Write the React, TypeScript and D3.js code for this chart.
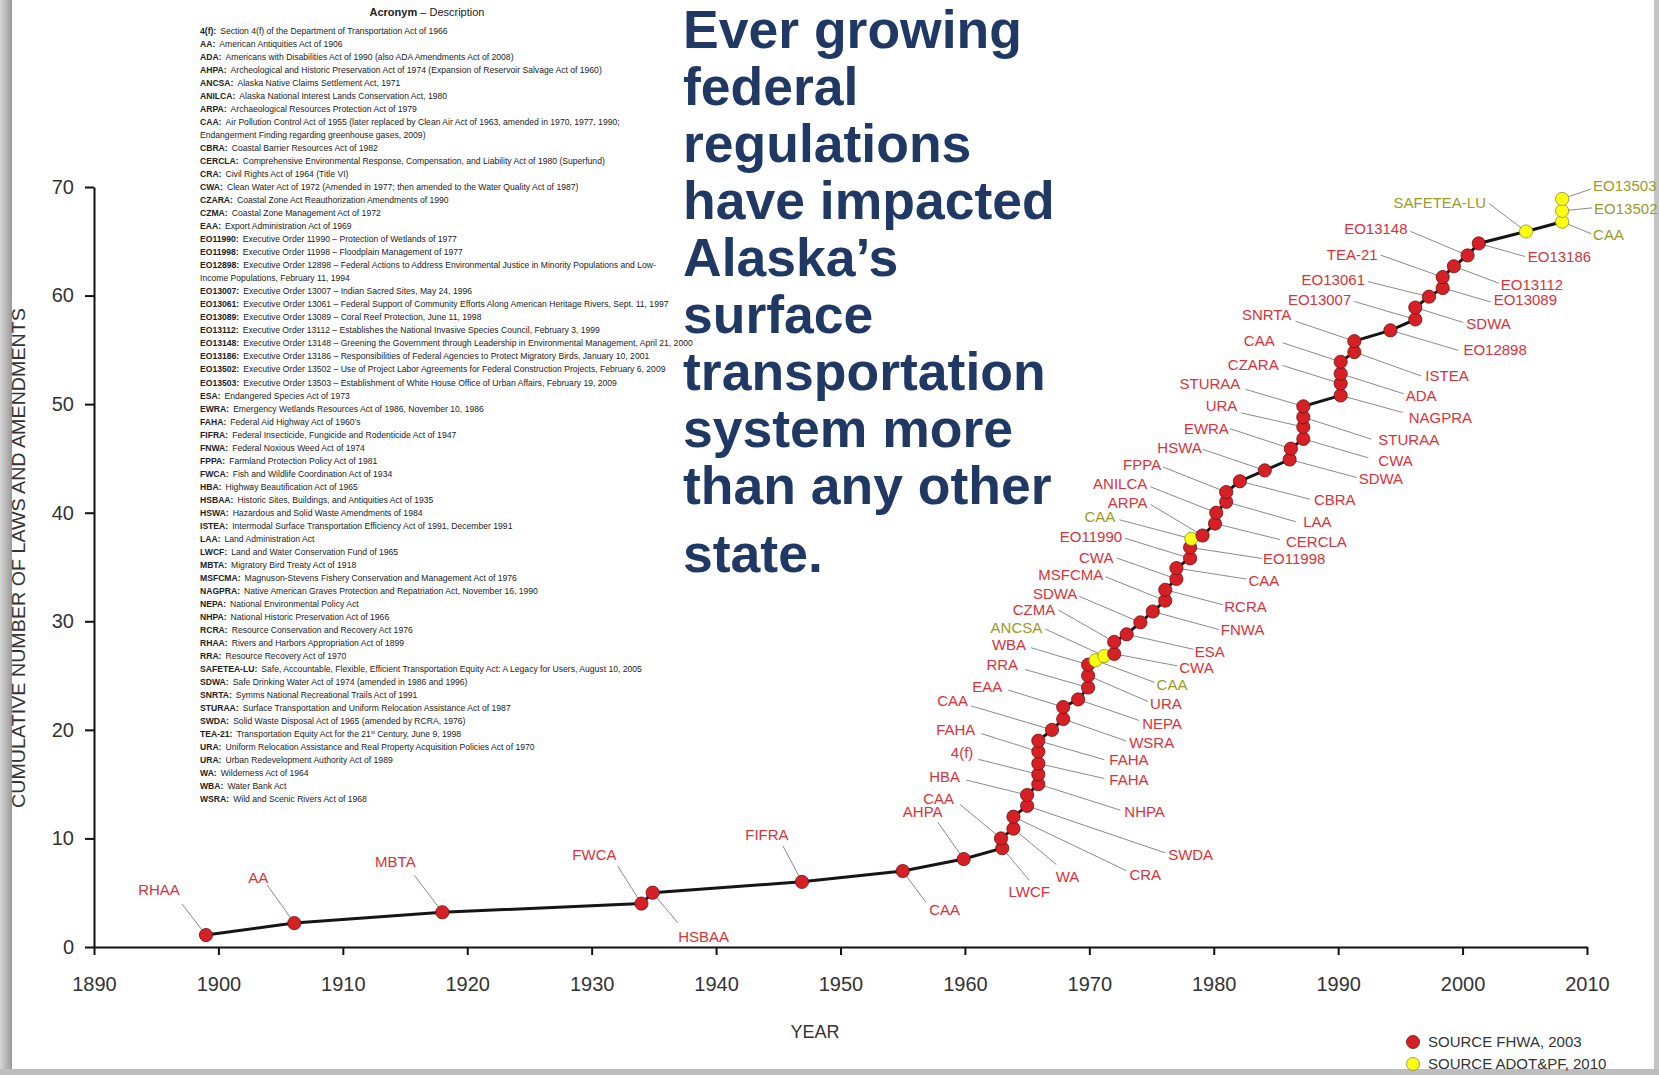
import React, { useEffect, useRef } from 'react';
import * as d3 from 'd3';

const W = 1659;
const H = 1075;

// one entry per law, in cumulative order
const years = [
  1899, 1906.1, 1918, 1934, 1934.9, 1946.9, 1955, 1959.9, 1963, 1962.9,
  1963.9, 1963.9, 1965, 1965, 1965.9, 1965.9, 1965.9, 1965.9, 1965.9, 1967,
  1967.9, 1967.9, 1969.1, 1969.9, 1969.9, 1969.9, 1970.5, 1971.2, 1972, 1972,
  1973, 1974.1, 1975.1, 1976.1, 1976.1, 1977, 1977, 1978.1, 1978.1, 1978.2,
  1979.1, 1980.1, 1980.2, 1981, 1981, 1982.1, 1984.1, 1986.1, 1986.2, 1987.2,
  1987.2, 1987.2, 1987.2, 1990.2, 1990.2, 1990.2, 1990.2, 1991.3, 1991.3, 1994.2,
  1996.2, 1996.2, 1997.3, 1998.4, 1998.4, 1999.3, 2000.4, 2001.3, 2005.1, 2008,
  2008, 2008
];

const counts = [
  1.1, 2.2, 3.2, 4.0, 5.0, 6.0, 7.0, 8.1, 9.1, 10.0,
  10.9, 12.0, 13.0, 14.0, 15.0, 15.9, 16.9, 18.0, 19.0, 20.0,
  21.0, 22.1, 22.8, 23.9, 25.0, 26.0, 26.4, 26.8, 27.0, 28.1,
  28.8, 29.9, 30.9, 31.9, 32.9, 33.9, 34.9, 35.8, 36.8, 37.6,
  37.9, 39.0, 40.0, 41.0, 41.9, 42.9, 43.9, 44.9, 45.9, 46.8,
  47.9, 48.8, 49.8, 50.8, 51.9, 52.8, 53.9, 54.8, 55.8, 56.8,
  57.8, 58.9, 59.9, 60.7, 61.7, 62.7, 63.7, 64.8, 65.9, 66.8,
  67.8, 68.9
];

const lawLabels = [
  'RHAA', 'AA', 'MBTA', 'FWCA', 'HSBAA', 'FIFRA', 'CAA', 'AHPA', 'LWCF', 'CAA',
  'WA', 'CRA', 'SWDA', 'HBA', 'NHPA', '4(f)', 'FAHA', 'FAHA', 'FAHA', 'CAA',
  'WSRA', 'EAA', 'NEPA', 'RRA', 'URA', 'WBA', 'CAA', 'ANCSA', 'CWA', 'CZMA',
  'ESA', 'SDWA', 'FNWA', 'MSFCMA', 'RCRA', 'CWA', 'CAA', 'EO11990', 'EO11998', 'CAA',
  'ARPA', 'CERCLA', 'ANILCA', 'LAA', 'FPPA', 'CBRA', 'HSWA', 'SDWA', 'EWRA', 'CWA',
  'URA', 'STURAA', 'STURAA', 'NAGPRA', 'CZARA', 'ADA', 'CAA', 'ISTEA', 'SNRTA', 'EO12898',
  'EO13007', 'SDWA', 'EO13061', 'EO13089', 'TEA-21', 'EO13112', 'EO13148', 'EO13186', 'SAFETEA-LU', 'CAA',
  'EO13502', 'EO13503'
];

// F = source FHWA 2003, A = source ADOT&PF 2010
const sources = [
  'F', 'F', 'F', 'F', 'F', 'F', 'F', 'F', 'F', 'F',
  'F', 'F', 'F', 'F', 'F', 'F', 'F', 'F', 'F', 'F',
  'F', 'F', 'F', 'F', 'F', 'F', 'A', 'A', 'F', 'F',
  'F', 'F', 'F', 'F', 'F', 'F', 'F', 'F', 'F', 'A',
  'F', 'F', 'F', 'F', 'F', 'F', 'F', 'F', 'F', 'F',
  'F', 'F', 'F', 'F', 'F', 'F', 'F', 'F', 'F', 'F',
  'F', 'F', 'F', 'F', 'F', 'F', 'F', 'F', 'A', 'A',
  'A', 'A'
];

// label placement relative to its dot: text dx, dy, anchor, leader end dx, dy
const labelLayout: [number, number, string, number, number][] = [
  [-47, -45, 'm', -24, -31], [-36, -46, 'm', -27, -38], [-47, -51, 'm', -28, -37], [-47, -49, 'm', -24, -38],
  [51, 44, 'm', 25, 30], [-35, -47, 'm', -19, -36], [42, 39, 'm', 23, 31], [-41, -47, 'm', -26, -37],
  [27, 43, 'm', 27, 32], [-47, -40, 'e', -41, -34], [54, 48, 'm', 43, 36], [116, 58, 's', 113, 54],
  [141, 49, 's', 138, 47], [-67, -18, 'e', -61, -15], [86, 27, 's', 82, 26], [-65, -22, 'e', -60, -15],
  [71, 16, 's', 66, 15], [-63, -22, 'e', -57, -18], [71, 19, 's', 66, 19], [-84, -29, 'e', -81, -24],
  [66, 24, 's', 63, 22], [-61, -20, 'e', -55, -17], [64, 24, 's', 61, 21], [-70, -23, 'e', -63, -18],
  [62, 28, 's', 60, 26], [-62, -20, 'e', -57, -17], [61, 24, 's', 59, 22], [-62, -28, 'e', -59, -27],
  [65, 14, 's', 63, 12], [-59, -32, 'e', -56, -32], [68, 17, 's', 67, 15], [-63, -29, 'e', -61, -26],
  [68, 18, 's', 66, 18], [-62, -26, 'e', -60, -24], [59, 17, 's', 58, 15], [-63, -21, 'e', -60, -21],
  [72, 13, 's', 70, 11], [-68, -22, 'e', -65, -20], [73, 11, 's', 72, 11], [-76, -22, 'e', -72, -19],
  [-55, -33, 'e', -52, -31], [71, 18, 's', 65, 16], [-69, -29, 'e', -66, -26], [77, 20, 's', 70, 20],
  [-65, -27, 'e', -63, -25], [74, 18, 's', 70, 18], [-63, -23, 'e', -62, -21], [69, 19, 's', 67, 18],
  [-62, -20, 'e', -61, -20], [75, 22, 's', 65, 19], [-66, -21, 'e', -62, -14], [75, 22, 's', 68, 22],
  [-63, -23, 'e', -58, -17], [68, 22, 's', 62, 17], [-62, -19, 'e', -58, -18], [65, 22, 's', 63, 20],
  [-66, -21, 'e', -58, -19], [71, 24, 's', 67, 24], [-63, -27, 'e', -59, -20], [73, 19, 's', 68, 20],
  [-64, -20, 'e', -61, -18], [51, 16, 's', 48, 15], [-64, -17, 'e', -61, -15], [51, 12, 's', 48, 14],
  [-65, -23, 'e', -62, -22], [47, 18, 's', 45, 17], [-60, -27, 'e', -57, -24], [49, 13, 's', 46, 13],
  [-40, -29, 'e', -37, -28], [31, 13, 's', 29, 12], [32, -2, 's', 30, -3], [31, -13, 's', 29, -10]
];

const xTicks = [1890, 1900, 1910, 1920, 1930, 1940, 1950, 1960, 1970, 1980, 1990, 2000, 2010];
const yTicks = [0, 10, 20, 30, 40, 50, 60, 70];

const titleLines = [
  'Ever growing', 'federal', 'regulations', 'have impacted', 'Alaska\u2019s',
  'surface', 'transportation', 'system more', 'than any other', 'state.'
];

const acronyms = [
  '4(f):', 'AA:', 'ADA:', 'AHPA:', 'ANCSA:', 'ANILCA:', 'ARPA:', 'CAA:', '', 'CBRA:',
  'CERCLA:', 'CRA:', 'CWA:', 'CZARA:', 'CZMA:', 'EAA:', 'EO11990:', 'EO11998:', 'EO12898:', '',
  'EO13007:', 'EO13061:', 'EO13089:', 'EO13112:', 'EO13148:', 'EO13186:', 'EO13502:', 'EO13503:', 'ESA:', 'EWRA:',
  'FAHA:', 'FIFRA:', 'FNWA:', 'FPPA:', 'FWCA:', 'HBA:', 'HSBAA:', 'HSWA:', 'ISTEA:', 'LAA:',
  'LWCF:', 'MBTA:', 'MSFCMA:', 'NAGPRA:', 'NEPA:', 'NHPA:', 'RCRA:', 'RHAA:', 'RRA:', 'SAFETEA-LU:',
  'SDWA:', 'SNRTA:', 'STURAA:', 'SWDA:', 'TEA-21:', 'URA:', 'URA:', 'WA:', 'WBA:', 'WSRA:'
];

const descriptions = [
  'Section 4(f) of the Department of Transportation Act of 1966',
  'American Antiquities Act of 1906',
  'Americans with Disabilities Act of 1990 (also ADA Amendments Act of 2008)',
  'Archeological and Historic Preservation Act of 1974 (Expansion of Reservoir Salvage Act of 1960)',
  'Alaska Native Claims Settlement Act, 1971',
  'Alaska National Interest Lands Conservation Act, 1980',
  'Archaeological Resources Protection Act of 1979',
  'Air Pollution Control Act of 1955 (later replaced by Clean Air Act of 1963, amended in 1970, 1977, 1990;',
  'Endangerment Finding regarding greenhouse gases, 2009)',
  'Coastal Barrier Resources Act of 1982',
  'Comprehensive Environmental Response, Compensation, and Liability Act of 1980 (Superfund)',
  'Civil Rights Act of 1964 (Title VI)',
  'Clean Water Act of 1972 (Amended in 1977; then amended to the Water Quality Act of 1987)',
  'Coastal Zone Act Reauthorization Amendments of 1990',
  'Coastal Zone Management Act of 1972',
  'Export Administration Act of 1969',
  'Executive Order 11990 \u2013 Protection of Wetlands of 1977',
  'Executive Order 11998 \u2013 Floodplain Management of 1977',
  'Executive Order 12898 \u2013 Federal Actions to Address Environmental Justice in Minority Populations and Low-',
  'Income Populations, February 11, 1994',
  'Executive Order 13007 \u2013 Indian Sacred Sites, May 24, 1996',
  'Executive Order 13061 \u2013 Federal Support of Community Efforts Along American Heritage Rivers, Sept. 11, 1997',
  'Executive Order 13089 \u2013 Coral Reef Protection, June 11, 1998',
  'Executive Order 13112 \u2013 Establishes the National Invasive Species Council, February 3, 1999',
  'Executive Order 13148 \u2013 Greening the Government through Leadership in Environmental Management, April 21, 2000',
  'Executive Order 13186 \u2013 Responsibilities of Federal Agencies to Protect Migratory Birds, January 10, 2001',
  'Executive Order 13502 \u2013 Use of Project Labor Agreements for Federal Construction Projects, February 6, 2009',
  'Executive Order 13503 \u2013 Establishment of White House Office of Urban Affairs, February 19, 2009',
  'Endangered Species Act of 1973',
  'Emergency Wetlands Resources Act of 1986, November 10, 1986',
  'Federal Aid Highway Act of 1960\u2019s',
  'Federal Insecticide, Fungicide and Rodenticide Act of 1947',
  'Federal Noxious Weed Act of 1974',
  'Farmland Protection Policy Act of 1981',
  'Fish and Wildlife Coordination Act of 1934',
  'Highway Beautification Act of 1965',
  'Historic Sites, Buildings, and Antiquities Act of 1935',
  'Hazardous and Solid Waste Amendments of 1984',
  'Intermodal Surface Transportation Efficiency Act of 1991, December 1991',
  'Land Administration Act',
  'Land and Water Conservation Fund of 1965',
  'Migratory Bird Treaty Act of 1918',
  'Magnuson-Stevens Fishery Conservation and Management Act of 1976',
  'Native American Graves Protection and Repatriation Act, November 16, 1990',
  'National Environmental Policy Act',
  'National Historic Preservation Act of 1966',
  'Resource Conservation and Recovery Act 1976',
  'Rivers and Harbors Appropriation Act of 1899',
  'Resource Recovery Act of 1970',
  'Safe, Accountable, Flexible, Efficient Transportation Equity Act: A Legacy for Users, August 10, 2005',
  'Safe Drinking Water Act of 1974 (amended in 1986 and 1996)',
  'Symms National Recreational Trails Act of 1991',
  'Surface Transportation and Uniform Relocation Assistance Act of 1987',
  'Solid Waste Disposal Act of 1965 (amended by RCRA, 1976)',
  'Transportation Equity Act for the 21|st| Century, June 9, 1998',
  'Uniform Relocation Assistance and Real Property Acquisition Policies Act of 1970',
  'Urban Redevelopment Authority Act of 1989',
  'Wilderness Act of 1964',
  'Water Bank Act',
  'Wild and Scenic Rivers Act of 1968'
];

const legendItems = ['SOURCE FHWA, 2003', 'SOURCE ADOT&PF, 2010'];

const RED = '#d71f26';
const RED_TEXT = '#d8323a';
const YELLOW = '#ffff10';
const OLIVE = '#9a9a28';
const FONT = "'Liberation Sans', Arial, sans-serif";

export default function App() {
  const svgRef = useRef<SVGSVGElement>(null);

  useEffect(() => {
    if (!svgRef.current) return;
    const svg = d3.select(svgRef.current);
    svg.selectAll('*').remove();

    svg.append('rect').attr('width', W).attr('height', H).attr('fill', '#fff');

    // slide frame shading
    const defs = svg.append('defs');
    const grad = defs.append('linearGradient').attr('id', 'edge').attr('x1', 0).attr('x2', 1);
    grad.append('stop').attr('offset', '0%').attr('stop-color', '#d6d6d6');
    grad.append('stop').attr('offset', '100%').attr('stop-color', '#9a9a9a');
    svg.append('rect').attr('x', 0).attr('y', 0).attr('width', 12).attr('height', H).attr('fill', 'url(#edge)');
    svg.append('rect').attr('x', 1654).attr('y', 0).attr('width', 5).attr('height', H).attr('fill', '#c4c4c4');
    svg.append('rect').attr('x', 0).attr('y', 1069).attr('width', W).attr('height', 6).attr('fill', '#bdbdbd');

    const x = d3.scaleLinear().domain([1890, 2010]).range([94, 1587]);
    const y = d3.scaleLinear().domain([0, 70]).range([947, 187]);

    // axes
    const yAxis = svg.append('g')
      .attr('transform', `translate(${x(1890)},0)`)
      .call(d3.axisLeft(y).tickValues(yTicks).tickSize(9).tickSizeOuter(0).tickPadding(11));
    const xAxis = svg.append('g')
      .attr('transform', `translate(0,${y(0)})`)
      .call(d3.axisBottom(x).tickValues(xTicks).tickFormat(d3.format('d')).tickSize(8).tickSizeOuter(0).tickPadding(22));
    [yAxis, xAxis].forEach(ax => {
      ax.select('.domain').attr('stroke', '#111').attr('stroke-width', 2);
      ax.selectAll('.tick line').attr('stroke', '#111').attr('stroke-width', 2);
      ax.selectAll('.tick text')
        .attr('fill', '#333')
        .attr('font-family', FONT)
        .attr('font-size', 20);
    });

    svg.append('text')
      .attr('transform', `translate(25,558) rotate(-90)`)
      .attr('text-anchor', 'middle')
      .attr('font-family', FONT)
      .attr('font-size', 18)
      .attr('fill', '#333')
      .attr('textLength', 500)
      .attr('lengthAdjust', 'spacingAndGlyphs')
      .text('CUMULATIVE NUMBER OF LAWS AND AMENDMENTS');

    svg.append('text')
      .attr('x', 815).attr('y', 1038)
      .attr('text-anchor', 'middle')
      .attr('font-family', FONT)
      .attr('font-size', 18)
      .attr('fill', '#333')
      .text('YEAR');

    const pts = years.map((yr, i) => ({
      year: yr,
      count: counts[i],
      label: lawLabels[i],
      src: sources[i],
      lay: labelLayout[i]
    }));

    // leader lines
    svg.append('g').selectAll('line')
      .data(pts)
      .enter()
      .append('line')
      .attr('x1', d => x(d.year))
      .attr('y1', d => y(d.count))
      .attr('x2', d => x(d.year) + d.lay[3])
      .attr('y2', d => y(d.count) + d.lay[4])
      .attr('stroke', '#8a8a8a')
      .attr('stroke-width', 1);

    const line = d3.line<typeof pts[number]>()
      .x(d => x(d.year))
      .y(d => y(d.count));

    svg.append('path')
      .datum(pts)
      .attr('d', line)
      .attr('fill', 'none')
      .attr('stroke', '#151515')
      .attr('stroke-width', 3);

    svg.append('g').selectAll('circle')
      .data(pts)
      .enter()
      .append('circle')
      .attr('cx', d => x(d.year))
      .attr('cy', d => y(d.count))
      .attr('r', 6.6)
      .attr('fill', d => d.src === 'A' ? YELLOW : RED)
      .attr('stroke', d => d.src === 'A' ? '#8c8c30' : '#6a1212')
      .attr('stroke-width', 0.8);

    const anchorOf: Record<string, string> = { m: 'middle', e: 'end', s: 'start' };
    svg.append('g').selectAll('text')
      .data(pts)
      .enter()
      .append('text')
      .attr('x', d => x(d.year) + d.lay[0])
      .attr('y', d => y(d.count) + d.lay[1])
      .attr('dy', '0.36em')
      .attr('text-anchor', d => anchorOf[d.lay[2]])
      .attr('font-family', FONT)
      .attr('font-size', 15)
      .attr('fill', d => d.src === 'A' ? OLIVE : RED_TEXT)
      .text(d => d.label);

    // legend
    const leg = svg.append('g');
    legendItems.forEach((t, i) => {
      const cy = 1042 + i * 22;
      leg.append('circle').attr('cx', 1413).attr('cy', cy).attr('r', 6.5)
        .attr('fill', i === 0 ? RED : YELLOW)
        .attr('stroke', i === 0 ? '#6a1212' : '#8c8c30').attr('stroke-width', 0.8);
      leg.append('text').attr('x', 1428).attr('y', cy).attr('dy', '0.36em')
        .attr('font-family', FONT).attr('font-size', 15).attr('fill', '#333').text(t);
    });

    // headline
    const title = svg.append('g');
    titleLines.forEach((t, i) => {
      title.append('text')
        .attr('x', 683)
        .attr('y', i < 9 ? 47.6 + i * 57.1 : 572)
        .attr('font-family', FONT)
        .attr('font-weight', 'bold')
        .attr('font-size', 53.5)
        .attr('fill', '#1f3864')
        .text(t);
    });

    // acronym list
    const list = svg.append('g').attr('font-family', FONT).attr('fill', '#222');
    const head = list.append('text').attr('x', 427).attr('y', 15.5)
      .attr('text-anchor', 'middle').attr('font-size', 11);
    head.append('tspan').attr('font-weight', 'bold').text('Acronym');
    head.append('tspan').text(' \u2013 Description');

    acronyms.forEach((a, i) => {
      const t = list.append('text').attr('x', 200).attr('y', 33.7 + i * 13.03).attr('font-size', 8.6);
      if (a) t.append('tspan').attr('font-weight', 'bold').text(a);
      const parts = descriptions[i].split('|');
      t.append('tspan').attr('dx', a ? 4 : 0).text(parts[0]);
      if (parts.length > 2) {
        t.append('tspan').attr('font-size', 5).attr('dy', -3).text(parts[1]);
        t.append('tspan').attr('dy', 3).text(parts[2]);
      }
    });
  }, []);

  return (
    <div style={{ position: 'absolute', left: 0, top: 0, background: '#fff' }}>
      <svg ref={svgRef} width={W} height={H} style={{ display: 'block' }} />
    </div>
  );
}
